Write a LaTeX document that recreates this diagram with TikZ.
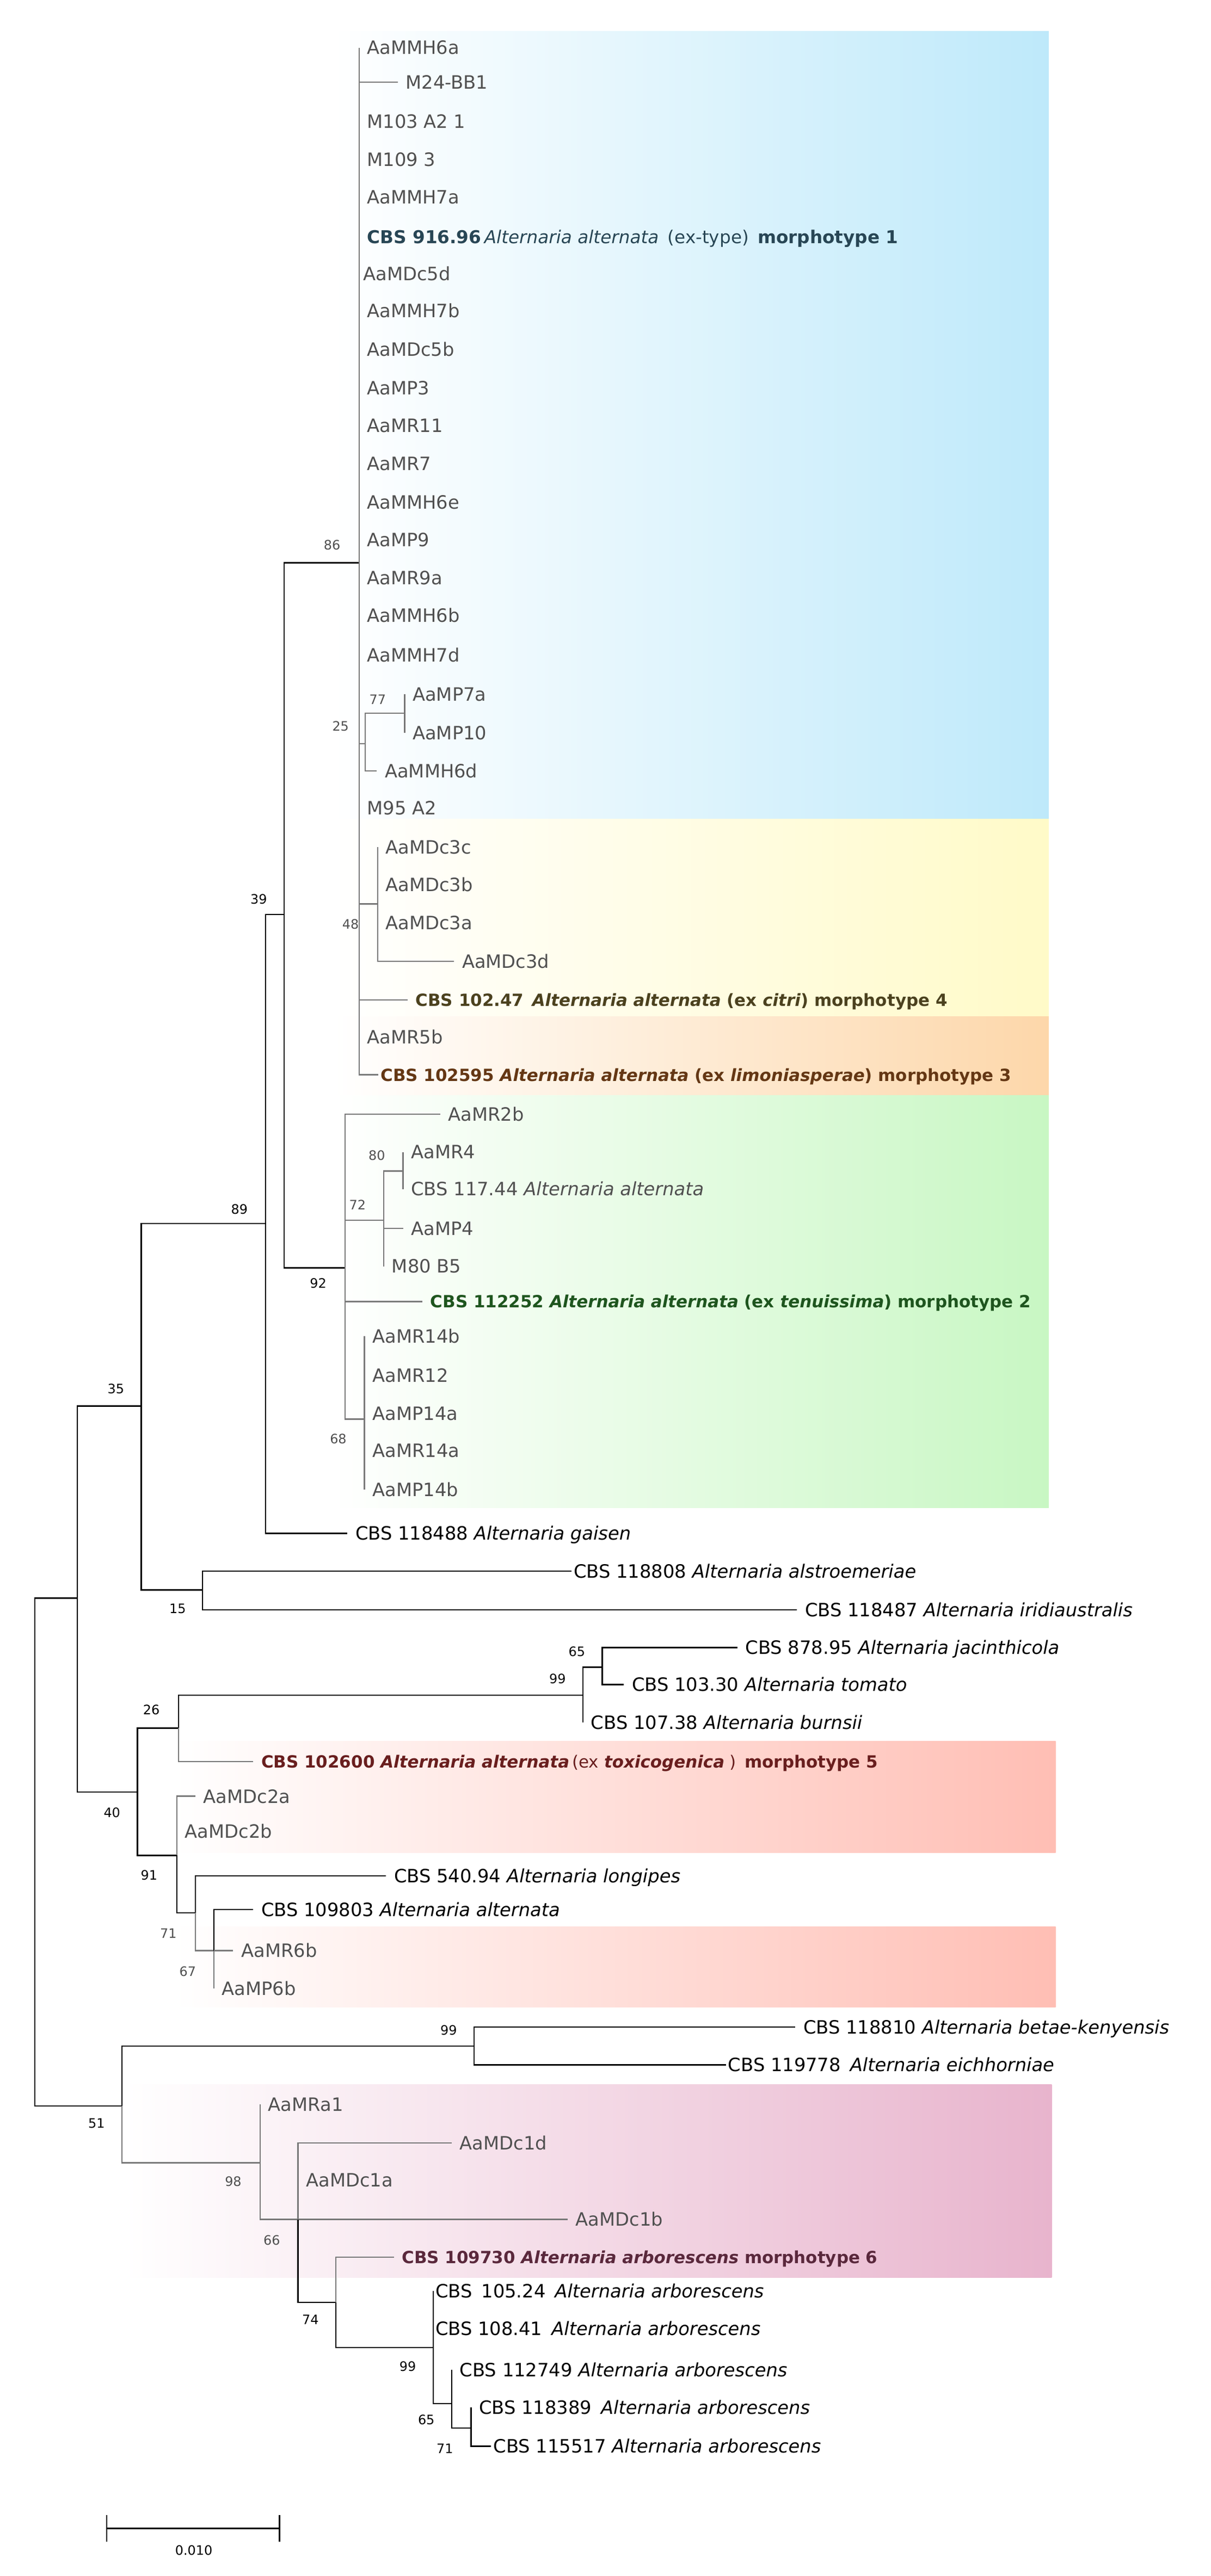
\documentclass[tikz,border=0pt]{standalone}
\usepackage{fontspec}
\setmainfont{DejaVu Sans}
\usetikzlibrary{positioning}

\definecolor{boxblue}{RGB}{190,233,250}
\definecolor{boxyellow}{RGB}{255,250,200}
\definecolor{boxorange}{RGB}{253,215,170}
\definecolor{boxgreen}{RGB}{200,247,195}
\definecolor{boxred}{RGB}{255,190,180}
\definecolor{boxpink}{RGB}{232,180,205}
\definecolor{leafgray}{RGB}{80,80,80}
\definecolor{linegray}{RGB}{120,120,120}
\definecolor{mone}{RGB}{40,70,85}
\definecolor{mtwo}{RGB}{30,85,30}
\definecolor{mthree}{RGB}{100,55,20}
\definecolor{mfour}{RGB}{75,65,30}
\definecolor{mfive}{RGB}{105,30,30}
\definecolor{msix}{RGB}{90,40,60}

\tikzset{
  leaf/.style={anchor=west, inner xsep=4pt, inner ysep=0pt, text height=7pt, text depth=0pt,
    font=\fontsize{9.6}{11}\selectfont, text=leafgray},
  spec/.style={leaf, text=black},
  tag/.style={leaf, text height=6.5pt, font=\fontsize{8.8}{10}\selectfont},
  boot/.style={inner sep=0pt, font=\fontsize{6.8}{8}\selectfont, text=leafgray},
  bootk/.style={boot, text=black},
  br/.style={draw=linegray, line width=0.7pt, to path={|- (\tikztotarget) \tikztonodes}},
  brk/.style={br, draw=black},
}

\begin{document}
\begin{tikzpicture}[x=0.014196cm, y=-0.015102cm]

    \useasboundingbox (0,0) rectangle (1568,3135);

    % clade backgrounds
    \shade[left color=white, right color=boxblue] (432,38) rectangle (1358,997);
    \shade[left color=white, right color=boxyellow] (432,997) rectangle (1358,1237);
    \shade[left color=white, right color=boxorange] (432,1237) rectangle (1358,1333);
    \shade[left color=white, right color=boxgreen] (432,1333) rectangle (1358,1835);
    \shade[left color=white, right color=boxred] (225,2119) rectangle (1367,2255);
    \shade[left color=white, right color=boxred] (225,2345) rectangle (1367,2443);
    \shade[left color=white, right color=boxpink] (160,2537) rectangle (1362,2772);

    % inner nodes
    \coordinate (cR) at (45,2254);
    \coordinate (c00) at (100,1945);
    \coordinate (c35) at (183,1711);
    \coordinate (c89) at (344,1489);
    \coordinate (c39) at (368,1113);
    \coordinate (c86) at (465,685);
    \coordinate (c25) at (473,905);
    \coordinate (c77) at (524,868);
    \coordinate (c48) at (489,1100);
    \coordinate (c92) at (447,1543);
    \coordinate (c72) at (497,1485);
    \coordinate (c80) at (522,1425);
    \coordinate (c68) at (472,1727);
    \coordinate (c15) at (262,1935);
    \coordinate (c40) at (178,2181);
    \coordinate (c26) at (231,2103);
    \coordinate (c99a) at (755,2063);
    \coordinate (c65a) at (780,2029);
    \coordinate (c91) at (229,2258);
    \coordinate (c71a) at (253,2328);
    \coordinate (c67) at (277,2374);
    \coordinate (c51) at (158,2563);
    \coordinate (c99b) at (614,2490);
    \coordinate (c98) at (337,2632);
    \coordinate (c66) at (386,2701);
    \coordinate (c74) at (435,2802);
    \coordinate (c99c) at (561,2857);
    \coordinate (c65b) at (585,2925);
    \coordinate (c71b) at (610,2955);

    % morphotype 1
    \node[leaf] (l01) at (465,58) {AaMMH6a};
    \node[leaf] (l02) at (515,100) {M24-BB1};
    \node[leaf] (l03) at (465,148) {M103 A2 1};
    \node[leaf] (l04) at (465,194) {M109 3};
    \node[leaf] (l05) at (465,240) {AaMMH7a};
    \node[leaf, text=mone, font=\fontsize{9.3}{11}\selectfont] (l06) at (465,288) {\textbf{CBS 916.96}\,\textit{Alternaria alternata}\enspace(ex-type)\enspace\textbf{morphotype 1}};
    \node[leaf, inner xsep=2pt] (l07) at (465,333) {AaMDc5d};
    \node[leaf] (l08) at (465,378) {AaMMH7b};
    \node[leaf] (l09) at (465,425) {AaMDc5b};
    \node[leaf] (l10) at (465,472) {AaMP3};
    \node[leaf] (l11) at (465,518) {AaMR11};
    \node[leaf] (l12) at (465,564) {AaMR7};
    \node[leaf] (l13) at (465,611) {AaMMH6e};
    \node[leaf] (l14) at (465,657) {AaMP9};
    \node[leaf] (l15) at (465,703) {AaMR9a};
    \node[leaf] (l16) at (465,749) {AaMMH6b};
    \node[leaf] (l17) at (465,797) {AaMMH7d};
    \node[leaf] (l18) at (524,845) {AaMP7a};
    \node[leaf] (l19) at (524,892) {AaMP10};
    \node[leaf] (l20) at (488,938) {AaMMH6d};
    \node[leaf] (l21) at (465,983) {M95 A2};

    % morphotypes 4 and 3
    \node[leaf] (l22) at (489,1031) {AaMDc3c};
    \node[leaf] (l23) at (489,1077) {AaMDc3b};
    \node[leaf] (l24) at (489,1123) {AaMDc3a};
    \node[leaf] (l25) at (588,1170) {AaMDc3d};
    \node[tag, text=mfour, xshift=6pt] (l26) at (513,1217) {\textbf{CBS 102.47\enspace\textit{Alternaria alternata} (ex \textit{citri}) morphotype 4}};
    \node[leaf] (l27) at (465,1262) {AaMR5b};
    \node[tag, text=mthree, inner xsep=1pt] (l28) at (490,1308) {\textbf{CBS 102595 \textit{Alternaria alternata} (ex \textit{limoniasperae}) morphotype 3}};

    % morphotype 2
    \node[leaf] (l29) at (570,1356) {AaMR2b};
    \node[leaf] (l30) at (522,1402) {AaMR4};
    \node[leaf] (l31) at (522,1447) {CBS 117.44 \textit{Alternaria alternata}};
    \node[leaf] (l32) at (522,1495) {AaMP4};
    \node[leaf] (l33) at (497,1541) {M80 B5};
    \node[tag, text=mtwo] (l34) at (547,1584) {\textbf{CBS 112252 \textit{Alternaria alternata} (ex \textit{tenuissima}) morphotype 2}};
    \node[leaf] (l35) at (472,1626) {AaMR14b};
    \node[leaf] (l36) at (472,1674) {AaMR12};
    \node[leaf] (l37) at (472,1720) {AaMP14a};
    \node[leaf] (l38) at (472,1765) {AaMR14a};
    \node[leaf] (l39) at (472,1813) {AaMP14b};

    % other species
    \node[spec] (l40) at (450,1866) {CBS 118488 \textit{Alternaria gaisen}};
    \node[spec, inner xsep=1pt] (l41) at (740,1912) {CBS 118808 \textit{Alternaria alstroemeriae}};
    \node[spec] (l42) at (1032,1959) {CBS 118487 \textit{Alternaria iridiaustralis}};
    \node[spec] (l43) at (955,2005) {CBS 878.95 \textit{Alternaria jacinthicola}};
    \node[spec] (l44) at (808,2050) {CBS 103.30 \textit{Alternaria tomato}};
    \node[spec] (l45) at (755,2096) {CBS 107.38 \textit{Alternaria burnsii}};

    % morphotype 5
    \node[tag, text=mfive] (l46) at (328,2144) {\textbf{CBS 102600 \textit{Alternaria alternata}}\,(ex \textbf{\textit{toxicogenica}} )\enspace\textbf{morphotype 5}};
    \node[leaf] (l47) at (253,2186) {AaMDc2a};
    \node[leaf] (l48) at (229,2229) {AaMDc2b};
    \node[spec] (l49) at (500,2283) {CBS 540.94 \textit{Alternaria longipes}};
    \node[spec] (l50) at (328,2324) {CBS 109803 \textit{Alternaria alternata}};
    \node[leaf] (l51) at (302,2374) {AaMR6b};
    \node[leaf] (l52) at (277,2420) {AaMP6b};

    \node[spec] (l53) at (1030,2467) {CBS 118810 \textit{Alternaria betae-kenyensis}};
    \node[spec, inner xsep=1pt] (l54) at (940,2513) {CBS 119778\enspace\textit{Alternaria eichhorniae}};

    % morphotype 6
    \node[leaf] (l55) at (337,2561) {AaMRa1};
    \node[leaf] (l56) at (585,2608) {AaMDc1d};
    \node[leaf] (l57) at (386,2653) {AaMDc1a};
    \node[leaf] (l58) at (735,2701) {AaMDc1b};
    \node[tag, text=msix] (l59) at (510,2747) {\textbf{CBS 109730 \textit{Alternaria arborescens} morphotype 6}};
    \node[spec, inner xsep=1pt] (l60) at (561,2788) {CBS\enspace105.24\enspace\textit{Alternaria arborescens}};
    \node[spec, inner xsep=1pt] (l61) at (561,2834) {CBS 108.41\enspace\textit{Alternaria arborescens}};
    \node[spec] (l62) at (585,2884) {CBS 112749 \textit{Alternaria arborescens}};
    \node[spec] (l63) at (610,2930) {CBS 118389\enspace\textit{Alternaria arborescens}};
    \node[spec, inner xsep=1pt] (l64) at (636,2977) {CBS 115517 \textit{Alternaria arborescens}};

    % branches
    \path[brk] (cR) edge (c00) edge (c51);
    \path[brk] (c00) edge (c35) edge (c40);
    \path[brk] (c35) edge (c89) edge (c15);
    \path[brk] (c89) edge (c39) edge (l40);
    \path[brk] (c39) edge (c86) edge (c92);
    \path[br] (c86) edge (l01) edge (l02) edge (l03) edge (l04) edge (l05) edge (l06)
        edge (l07) edge (l08) edge (l09) edge (l10) edge (l11) edge (l12) edge (l13)
        edge (l14) edge (l15) edge (l16) edge (l17) edge (c25) edge (l21) edge (c48)
        edge (l26) edge (l27) edge (l28);
    \path[br] (c25) edge (c77) edge (l20);
    \path[br] (c77) edge (l18) edge (l19);
    \path[br] (c48) edge (l22) edge (l23) edge (l24) edge (l25);
    \path[br] (c92) edge (l29) edge (c72) edge (l34) edge (c68);
    \path[br] (c72) edge (c80) edge (l32) edge (l33);
    \path[br] (c80) edge (l30) edge (l31);
    \path[br] (c68) edge (l35) edge (l36) edge (l37) edge (l38) edge (l39);
    \path[brk] (c15) edge (l41) edge (l42);
    \path[brk] (c40) edge (c26) edge (c91);
    \path[brk] (c26) edge (c99a);
    \path[br] (c26) edge (l46);
    \path[brk] (c99a) edge (c65a) edge (l45);
    \path[brk] (c65a) edge (l43) edge (l44);
    \path[br] (c91) edge (l47) edge (l48);
    \path[brk] (c91) edge (c71a);
    \path[brk] (c71a) edge (l49);
    \path[br] (c71a) edge (c67);
    \path[brk] (c67) edge (l50);
    \path[br] (c67) edge (l51) edge (l52);
    \path[brk] (c51) edge (c99b);
    \path[br] (c51) edge (c98);
    \path[brk] (c99b) edge (l53) edge (l54);
    \path[br] (c98) edge (l55) edge (c66);
    \path[br] (c66) edge (l56) edge (l57) edge (l58);
    \path[brk] (c66) edge (c74);
    \path[br] (c74) edge (l59);
    \path[brk] (c74) edge (c99c);
    \path[brk] (c99c) edge (l60) edge (l61) edge (c65b);
    \path[brk] (c65b) edge (l62) edge (c71b);
    \path[brk] (c71b) edge (l63) edge (l64);

    % bootstrap values
    \node[boot] (v86) at (430,663) {86};
    \node[boot] (v25) at (441,884) {25};
    \node[boot] (v77) at (489,851) {77};
    \node[boot] (v48) at (454,1125) {48};
    \node[bootk] (v39) at (335,1094) {39};
    \node[bootk] (v89) at (310,1472) {89};
    \node[bootk] (v92) at (412,1562) {92};
    \node[boot] (v80) at (488,1406) {80};
    \node[boot] (v72) at (463,1466) {72};
    \node[boot] (v68) at (438,1751) {68};
    \node[bootk] (v35) at (150,1690) {35};
    \node[bootk] (v15) at (230,1958) {15};
    \node[bootk] (v65a) at (747,2010) {65};
    \node[bootk] (v99a) at (722,2043) {99};
    \node[bootk] (v26) at (196,2081) {26};
    \node[bootk] (v40) at (145,2206) {40};
    \node[bootk] (v91) at (193,2282) {91};
    \node[boot] (v71a) at (218,2353) {71};
    \node[boot] (v67) at (243,2399) {67};
    \node[bootk] (v99b) at (581,2471) {99};
    \node[bootk] (v51) at (125,2584) {51};
    \node[boot] (v98) at (302,2655) {98};
    \node[boot] (v66) at (352,2726) {66};
    \node[bootk] (v74) at (402,2823) {74};
    \node[bootk] (v99c) at (528,2880) {99};
    \node[bootk] (v65b) at (552,2945) {65};
    \node[bootk] (v71b) at (576,2980) {71};

    % scale bar
    \draw[line width=0.7pt] (138,3077) -- (362,3077);
    \draw[line width=0.7pt] (138,3061) -- (138,3093);
    \draw[line width=0.7pt] (362,3061) -- (362,3093);
    \node[bootk] (scale) at (251,3104) {0.010};

\end{tikzpicture}
\end{document}
